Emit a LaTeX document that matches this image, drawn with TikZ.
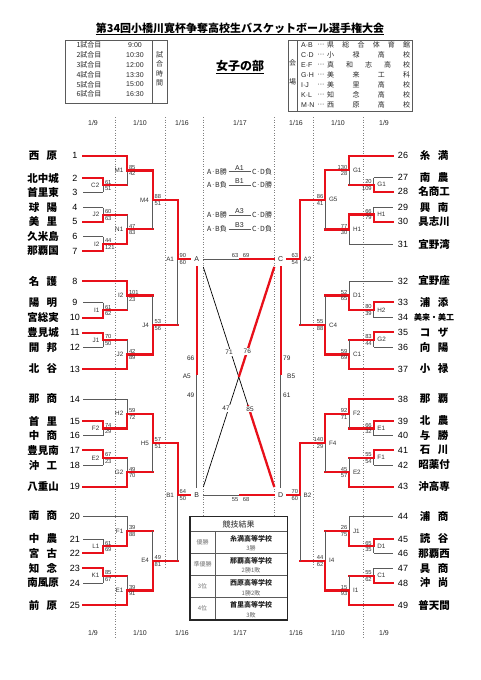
\documentclass[tikz,border=0pt]{standalone}
\usepackage{fontspec}
\setmainfont{Liberation Sans}
\newfontfamily\jp{Noto Sans CJK JP}
\definecolor{myred}{HTML}{E8101A}
\definecolor{mygray}{HTML}{5A5A5A}
\newcommand\TT[2]{\makebox[28.5pt][s]{#1\hfil#2}}
\newcommand\LM[9]{%
  \draw[gl] (#1,#2) -- (#1,#3);
  \ifnum#9=0 \draw[rl] (#1,#2) -- (#1,#4); \else \draw[rl] (#1,#4) -- (#1,#3); \fi
  \draw[rl] (#1,#4) -- (#5,#4);
  \node[lab,anchor=east] at (#1-3.5,#4) {#6};
  \node[sc,anchor=south west] at (#1+1.8,#4-0.9) {#7};
  \node[sc,anchor=north west] at (#1+1.8,#4+1.2) {#8};
}
\newcommand\RM[9]{%
  \draw[gl] (#1,#2) -- (#1,#3);
  \ifnum#9=0 \draw[rl] (#1,#2) -- (#1,#4); \else \draw[rl] (#1,#4) -- (#1,#3); \fi
  \draw[rl] (#1,#4) -- (#5,#4);
  \node[lab,anchor=west] at (#1+3.5,#4) {#6};
  \node[sc,anchor=south east] at (#1-1.8,#4-0.9) {#7};
  \node[sc,anchor=north east] at (#1-1.8,#4+1.2) {#8};
}
\newcommand\LT[5]{\node[tname] (L#1) at (43,#2) {#3}; \node[tnum] (Ln#1) at (75,#2) {#1}; \draw[#5] (83,#2) -- (#4,#2);}
\newcommand\RT[5]{\node[tname] (R#1) at (434,#2) {#3}; \node[tnum] (Rn#1) at (403,#2) {#1}; \draw[#5] (392.7,#2) -- (#4,#2);}
\newcommand\venue[3]{%
  \node[hd,anchor=west] at (301,#1) {#2};
  \node[hd] at (321,#1) {···};
  \node[tt,anchor=west] at (327,#1) {\makebox[83pt][s]{#3}};}
\begin{document}
\begin{tikzpicture}[x=1pt,y=-1pt,
 rl/.style={draw=myred,line width=2.3pt,line cap=rect},
 gl/.style={draw=mygray,line width=0.7pt},
 dl/.style={draw=gray,dotted,line width=0.6pt},
 sc/.style={font=\fontsize{5.8}{6}\selectfont,inner sep=0pt,text=black!80},
 lab/.style={font=\fontsize{6.3}{7}\selectfont,inner sep=0pt,text=black!80},
 tname/.style={font=\jp\bfseries\fontsize{10.5}{12}\selectfont,inner sep=0pt},
 tnum/.style={font=\fontsize{9}{10}\selectfont,inner sep=0pt},
 hd/.style={font=\fontsize{7}{8}\selectfont,inner sep=0pt,text=black!85},
 tt/.style={font=\jp\fontsize{7}{8}\selectfont,inner sep=0pt,text=black!85},
 cl/.style={font=\fontsize{6.5}{7}\selectfont,inner sep=1pt,fill=white,text=black!85},
]
\useasboundingbox (0,0) rectangle (481,680);
\fill[white] (0,0) rectangle (481,680);
% title
\node[inner sep=0pt,font=\jp\bfseries\fontsize{11}{12}\selectfont] (title) at (240,28) {第34回小橋川寛杯争奪高校生バスケットボール選手権大会};
\draw[line width=0.7pt] (title.west |- 0,34) -- (title.east |- 0,34);
\node[inner sep=0pt,font=\jp\bfseries\fontsize{12}{13}\selectfont] (sub) at (240,66) {女子の部};
\draw[line width=0.7pt] (sub.west |- 0,73) -- (sub.east |- 0,73);
% schedule table
\draw[mygray,line width=0.7pt] (65,40) rectangle (167,103);
\draw[mygray,line width=0.7pt] (152,40) -- (152,103);
\foreach \n/\t [count=\i from 0] in {1/9:00,2/10:30,3/12:00,4/13:30,5/15:00,6/16:30}{
  \node[tt] at (89,45.3+9.8*\i) {\n 試合目};
  \node[hd] at (135,45.3+9.8*\i) {\t};
}
\foreach \c [count=\i from 0] in {試,合,時,間}{\node[tt] at (159.5,55+9.3*\i) {\c};}
% venue table
\draw[mygray,line width=0.7pt] (288,40) rectangle (412,111);
\draw[mygray,line width=0.7pt] (297,40) -- (297,111);
\node[tt] at (292.5,63) {会};
\node[tt] at (292.5,82) {場};
\venue{45}{A·B}{県\hfil 総\hfil 合\hfil 体\hfil 育\hfil 館}
\venue{55}{C·D}{小\hfil 禄\hfil 高\hfil 校}
\venue{65}{E·F}{真\hfil 和\hfil 志\hfil 高\hfil 校}
\venue{75}{G·H}{美\hfil 来\hfil 工\hfil 科}
\venue{85}{I·J}{美\hfil 里\hfil 高\hfil 校}
\venue{95}{K·L}{知\hfil 念\hfil 高\hfil 校}
\venue{105}{M·N}{西\hfil 原\hfil 高\hfil 校}
% column heads
\foreach \x/\t in {93/1\slash 9,140/1\slash 10,182/1\slash 16,240/1\slash 17,296/1\slash 16,338/1\slash 10,384/1\slash 9}{
  \node[hd] at (\x,123) {\t};
  \node[hd] at (\x,633) {\t};
}
% dotted lines
\draw[dl] (115,117) -- (115,638);
\draw[dl] (363,117) -- (363,638);
\draw[dl] (165,117) -- (165,568);
\draw[dl] (313,117) -- (313,568);
\draw[dl] (203.3,117) -- (203.3,517);
\draw[dl] (274.3,117) -- (274.3,517);
% left teams
\LT{1}{155.7}{\TT{西}{原}}{127}{rl}
\LT{2}{178.3}{北中城}{103}{rl}
\LT{3}{192.3}{首里東}{103}{gl}
\LT{4}{207.7}{\TT{球}{陽}}{103}{gl}
\LT{5}{221.7}{\TT{美}{里}}{103}{rl}
\LT{6}{236.7}{久米島}{103}{gl}
\LT{7}{251}{那覇国}{103}{rl}
\LT{8}{281}{\TT{名}{護}}{127}{rl}
\LT{9}{302.7}{\TT{陽}{明}}{103}{gl}
\LT{10}{317.7}{宮総実}{103}{rl}
\LT{11}{332.7}{豊見城}{103}{rl}
\LT{12}{347.3}{\TT{開}{邦}}{103}{gl}
\LT{13}{369}{\TT{北}{谷}}{127}{rl}
\LT{14}{399}{\TT{那}{商}}{127}{gl}
\LT{15}{421}{\TT{首}{里}}{103}{rl}
\LT{16}{435.7}{\TT{中}{商}}{103}{gl}
\LT{17}{450.3}{豊見南}{103}{rl}
\LT{18}{465.3}{\TT{沖}{工}}{103}{gl}
\LT{19}{486.7}{八重山}{127}{rl}
\LT{20}{516}{\TT{南}{商}}{127}{gl}
\LT{21}{539}{\TT{中}{農}}{103}{gl}
\LT{22}{553.3}{\TT{宮}{古}}{103}{rl}
\LT{23}{568.3}{\TT{知}{念}}{103}{rl}
\LT{24}{583}{南風原}{103}{gl}
\LT{25}{605.3}{\TT{前}{原}}{127}{rl}
% left matches
\LM{103}{178.3}{192.3}{185.3}{127}{C2}{61}{51}{0}
\LM{103}{207.7}{221.7}{214.7}{127}{J2}{60}{63}{1}
\LM{103}{236.7}{251}{243.9}{127}{I2}{44}{121}{1}
\LM{103}{302.7}{317.7}{310.2}{127}{I1}{61}{62}{1}
\LM{103}{332.7}{347.3}{340}{127}{J1}{70}{50}{0}
\LM{103}{421}{435.7}{428.4}{127}{F2}{74}{29}{0}
\LM{103}{450.3}{465.3}{457.8}{127}{E2}{67}{23}{0}
\LM{103}{539}{553.3}{546.2}{127}{L1}{61}{69}{1}
\LM{103}{568.3}{583}{575.7}{127}{K1}{85}{67}{0}
\LM{127}{155.7}{185.3}{170.5}{152.7}{M1}{85}{42}{0}
\LM{127}{214.7}{243.9}{229.3}{152.7}{N1}{47}{83}{1}
\LM{127}{281}{310.2}{295.6}{152.7}{I2}{101}{23}{0}
\LM{127}{340}{369}{354.5}{152.7}{J2}{42}{89}{1}
\LM{127}{399}{428.4}{413.7}{152.7}{H2}{59}{72}{1}
\LM{127}{457.8}{486.7}{472.3}{152.7}{G2}{49}{70}{1}
\LM{127}{516}{546.2}{531.1}{152.7}{F1}{39}{88}{1}
\LM{127}{575.7}{605.3}{590.5}{152.7}{E1}{39}{91}{1}
\LM{152.7}{170.5}{229.3}{199.9}{177.7}{M4}{88}{51}{0}
\LM{152.7}{295.6}{354.5}{325}{177.7}{J4}{53}{56}{1}
\LM{152.7}{413.7}{472.3}{443}{177.7}{H5}{57}{51}{0}
\LM{152.7}{531.1}{590.5}{560.8}{177.7}{E4}{49}{81}{1}
\LM{177.7}{199.9}{325}{259}{190}{A1}{90}{60}{0}
\LM{177.7}{443}{560.8}{495}{190}{B1}{64}{50}{0}
% right teams
\RT{26}{155.7}{\TT{糸}{満}}{349.3}{rl}
\RT{27}{177.7}{\TT{南}{農}}{373.7}{gl}
\RT{28}{191.7}{名商工}{373.7}{rl}
\RT{29}{207.3}{\TT{興}{南}}{373.7}{gl}
\RT{30}{221.7}{具志川}{373.7}{rl}
\RT{31}{244.3}{宜野湾}{349.3}{gl}
\RT{32}{281}{宜野座}{349.3}{gl}
\RT{33}{302.3}{\TT{浦}{添}}{373.7}{rl}
\RT{34}{317.7}{{\fontsize{8}{9}\selectfont 美来・美工}}{373.7}{gl}
\RT{35}{332.3}{\TT{コ}{ザ}}{373.7}{rl}
\RT{36}{347.3}{\TT{向}{陽}}{373.7}{gl}
\RT{37}{369}{\TT{小}{禄}}{349.3}{rl}
\RT{38}{399}{\TT{那}{覇}}{349.3}{rl}
\RT{39}{421}{\TT{北}{農}}{373.7}{rl}
\RT{40}{435.7}{\TT{与}{勝}}{373.7}{gl}
\RT{41}{450.3}{\TT{石}{川}}{373.7}{rl}
\RT{42}{465}{昭薬付}{373.7}{gl}
\RT{43}{486.7}{沖高専}{349.3}{rl}
\RT{44}{516}{\TT{浦}{商}}{349.3}{gl}
\RT{45}{539}{\TT{読}{谷}}{373.7}{rl}
\RT{46}{553.3}{那覇西}{373.7}{gl}
\RT{47}{568.3}{\TT{具}{商}}{373.7}{gl}
\RT{48}{583}{\TT{沖}{尚}}{373.7}{rl}
\RT{49}{605.3}{普天間}{349.3}{rl}
% right matches
\RM{373.7}{177.7}{191.7}{184.7}{349.3}{G1}{20}{109}{1}
\RM{373.7}{207.3}{221.7}{214.5}{349.3}{H1}{66}{79}{1}
\RM{373.7}{302.3}{317.7}{310}{349.3}{H2}{80}{39}{0}
\RM{373.7}{332.3}{347.3}{339.8}{349.3}{G2}{83}{44}{0}
\RM{373.7}{421}{435.7}{428.4}{349.3}{E1}{66}{32}{0}
\RM{373.7}{450.3}{465}{457.7}{349.3}{F1}{55}{54}{0}
\RM{373.7}{539}{553.3}{546.2}{349.3}{D1}{65}{35}{0}
\RM{373.7}{568.3}{583}{575.7}{349.3}{C1}{55}{62}{1}
\RM{349.3}{155.7}{184.7}{170.2}{325.3}{G1}{130}{28}{0}
\RM{349.3}{214.5}{244.3}{229.4}{325.3}{H1}{77}{30}{0}
\RM{349.3}{281}{310}{295.5}{325.3}{D1}{52}{65}{1}
\RM{349.3}{339.8}{369}{354.4}{325.3}{C1}{59}{69}{1}
\RM{349.3}{399}{428.4}{413.7}{325.3}{F2}{92}{71}{0}
\RM{349.3}{457.7}{486.7}{472.2}{325.3}{E2}{45}{57}{1}
\RM{349.3}{516}{546.2}{531.1}{325.3}{J1}{26}{75}{1}
\RM{349.3}{575.7}{605.3}{590.5}{325.3}{I1}{15}{93}{1}
\RM{325.3}{170.2}{229.4}{199.8}{300}{G5}{86}{41}{0}
\RM{325.3}{295.5}{354.4}{325}{300}{C4}{55}{88}{1}
\RM{325.3}{413.7}{472.2}{443}{300}{F4}{140}{29}{0}
\RM{325.3}{531.1}{590.5}{560.8}{300}{I4}{44}{62}{1}
\RM{300}{199.8}{325}{259}{287}{A2}{63}{54}{0}
\RM{300}{443}{560.8}{495}{287}{B2}{70}{60}{0}
% finals area
\node[hd] (A) at (196.7,259) {A};
\node[hd] (B) at (196.7,495) {B};
\node[hd] (C) at (280.7,259) {C};
\node[hd] (D) at (280.7,495) {D};
\draw[gl] (203.3,259) -- (240,259);
\draw[rl] (240,259) -- (274.3,259);
\node[sc,anchor=south] at (235,257.3) {63};
\node[sc,anchor=south] at (246,257.3) {69};
\draw[gl] (203.3,495) -- (240,495);
\draw[rl] (240,495) -- (274.3,495);
\node[sc,anchor=north] at (235,497) {55};
\node[sc,anchor=north] at (246,497) {68};
\draw[gl] (196.7,266) -- (196.7,488);
\draw[rl,line cap=butt] (196.7,266) -- (196.7,375);
\node[cl,anchor=east,fill=none,inner sep=0pt] at (194.5,358.3) {66};
\node[cl,anchor=east,fill=none,inner sep=0pt] at (191,376.7) {A5};
\node[cl,anchor=east,fill=none,inner sep=0pt] at (194.5,395) {49};
\draw[gl] (280.7,266) -- (280.7,488);
\draw[rl,line cap=butt] (280.7,266) -- (280.7,375);
\node[cl,anchor=west,fill=none,inner sep=0pt] at (283,358.3) {79};
\node[cl,anchor=west,fill=none,inner sep=0pt] at (287,376.7) {B5};
\node[cl,anchor=west,fill=none,inner sep=0pt] at (283,395) {61};
\draw[black,line width=0.7pt] (203.3,267) -- (274.3,487);
\draw[black,line width=0.7pt] (274.3,267) -- (203.3,487);
\draw[rl,line cap=butt] (247.8,405) -- (274.3,487);
\draw[rl,line cap=butt] (274.3,267) -- (238.8,377);
\node[cl] at (229,352.3) {71};
\node[cl] at (247.3,351.7) {76};
\node[cl] at (226,408.3) {47};
\node[cl] at (250,409) {85};
% schedule of final league
\foreach \y/\l/\r/\m in {171.7/勝/負/A1,185/負/勝/B1,215/勝/勝/A3,229/負/負/B3}{
  \node[tt,anchor=east] at (227,\y) {A·B\l};
  \draw[mygray,line width=0.6pt] (228.5,\y) -- (250.5,\y);
  \node[hd,anchor=south] at (239.5,\y-1) {\m};
  \node[tt,anchor=west] at (252,\y) {C·D\r};
}
% results box
\draw[mygray,line width=0.5pt] (190,531) -- (287.3,531);
\draw[mygray,line width=0.5pt] (190,553.3) -- (287.3,553.3);
\draw[mygray,line width=0.5pt] (190,575.7) -- (287.3,575.7);
\draw[mygray,line width=0.5pt] (190,597.7) -- (287.3,597.7);
\draw[mygray,line width=0.5pt] (215,531) -- (215,620);
\draw[black!85,line width=1.3pt] (190,516.7) rectangle (287.3,620);
\node[tt,font=\jp\fontsize{8}{9}\selectfont] at (238.6,524) {競技結果};
\foreach \t/\p/\s/\r in {531/優勝/糸満高等学校/3勝,553.3/準優勝/那覇高等学校/2勝1敗,575.7/3位/西原高等学校/1勝2敗,597.7/4位/首里高等学校/3敗}{
  \node[tt,font=\jp\fontsize{6}{7}\selectfont,text=black!55] at (202.5,\t+11) {\p};
  \node[tt,font=\jp\bfseries\fontsize{7}{8}\selectfont] at (251,\t+7.5) {\s};
  \node[tt,font=\jp\fontsize{6}{7}\selectfont,text=black!60] at (251,\t+17.2) {\r};
}
\end{tikzpicture}
\end{document}
